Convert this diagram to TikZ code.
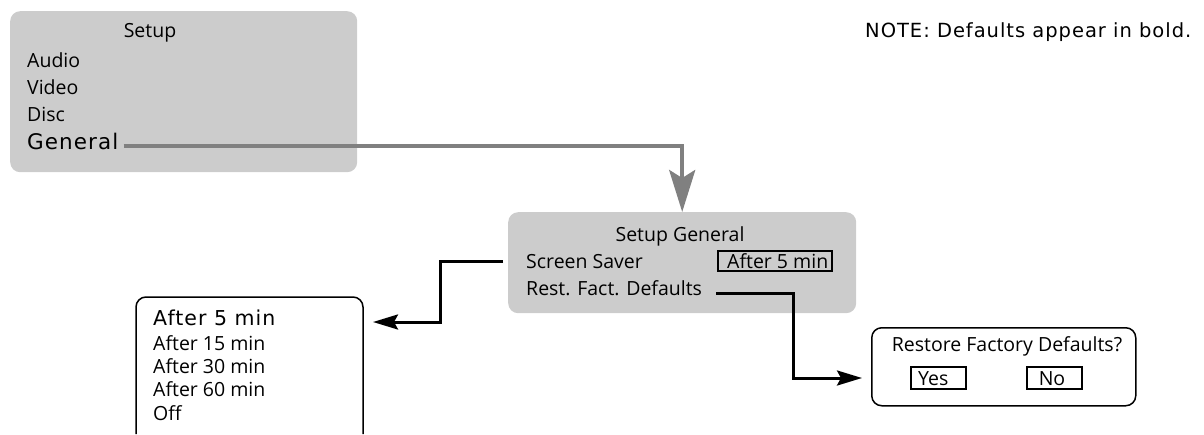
\documentclass[tikz,border=0pt]{standalone}
\usepackage{fontspec}
\setmainfont{Open Sans}
\newfontfamily\boldfont[LetterSpace=5]{DejaVu Sans}
\usetikzlibrary{arrows.meta}
\definecolor{menugray}{HTML}{CCCCCC}
\definecolor{linkgray}{HTML}{808080}
\newcommand\itemsize{\fontsize{19.5}{23}\selectfont}
\tikzset{
  menubox/.style={fill=menugray,rounded corners=10pt,inner sep=0pt,anchor=north west},
  popbox/.style={draw=black,line width=1.5pt,rounded corners=10pt,inner sep=0pt,anchor=north west},
  valbox/.style={draw=black,line width=2pt,inner sep=0pt},
  item/.style={anchor=base west,inner sep=0pt,font=\itemsize},
  title/.style={anchor=base,inner sep=0pt,font=\itemsize},
  deflt/.style={anchor=base west,inner sep=0pt,font=\boldfont\fontsize{20.5}{24}\selectfont},
  grayline/.style={draw=linkgray,line width=4pt,-{Stealth[length=42pt,width=26pt,inset=8pt]}},
  blackline/.style={draw=black,line width=3pt,-{Stealth[length=25pt,width=15pt,inset=4pt]}},
}
\begin{document}
\begin{tikzpicture}[x=1pt,y=-1pt]
  \useasboundingbox (0,0) rectangle (1204,434);

  % Setup menu
  \node[menubox,minimum width=347pt,minimum height=161pt] (setup) at (10,11) {};
  \node[title] (setuptitle) at (150,37.7) {Setup};
  \node[item] (audio) at (27,67) {Audio};
  \node[item] (video) at (27,94) {Video};
  \node[item] (disc) at (27,121) {Disc};
  \node[deflt,font=\boldfont\fontsize{21.5}{24}\selectfont] (general) at (27,149) {General};

  \node[deflt,font=\boldfont\fontsize{19.5}{24}\selectfont] (note) at (865,37.3)
    {NOTE: Defaults appear in bold.};

  % Setup General menu
  \node[menubox,minimum width=348pt,minimum height=101pt] (setupgen) at (508,212) {};
  \node[title] (gentitle) at (680,241.7) {Setup General};
  \node[item] (screensaver) at (526,268) {Screen Saver};
  \node[valbox,minimum width=114pt,minimum height=20pt] (ssval) at (775,261) {};
  \node[item] (ssvaltext) at (727,268) {After 5 min};
  \node[item] (restfact) at (526,295) {Rest. Fact. Defaults};

  % Screen saver choices
  \draw[line width=1.5pt,rounded corners=10pt] (136,434) |- (363,297) -- (363,434);
  \node[deflt] (opt5) at (153,325.7) {After 5 min};
  \node[item] (opt15) at (153,350) {After 15 min};
  \node[item] (opt30) at (153,373) {After 30 min};
  \node[item] (opt60) at (153,396.7) {After 60 min};
  \node[item] (optoff) at (153,420) {Off};

  % Restore dialog
  \node[popbox,minimum width=264pt,minimum height=78pt] (restore) at (871,327) {};
  \node[title] (restoretitle) at (1007,351.7) {Restore Factory Defaults?};
  \node[valbox,minimum width=55pt,minimum height=22pt] (yes) at (938.5,378) {};
  \node[item] (yestext) at (918,385) {Yes};
  \node[valbox,minimum width=55pt,minimum height=22pt] (no) at (1054.5,378) {};
  \node[title] (notext) at (1052,385) {No};

  % connectors
  \coordinate (genout) at ([xshift=5pt,yshift=3pt]general.base east);
  \draw[grayline] (genout) -| (setupgen.north);

  \coordinate (ssout) at ([xshift=-5pt]setupgen.west |- screensaver.west);
  \coordinate (sstip) at (373,322);
  \draw[blackline] (ssout) -- ++(-63,0) |- (sstip);

  \coordinate (rfout) at (716,293);
  \draw[blackline,shorten >=9pt] (rfout) -- ++(77,0) |- (restore.west |- yes.center);
\end{tikzpicture}
\end{document}
